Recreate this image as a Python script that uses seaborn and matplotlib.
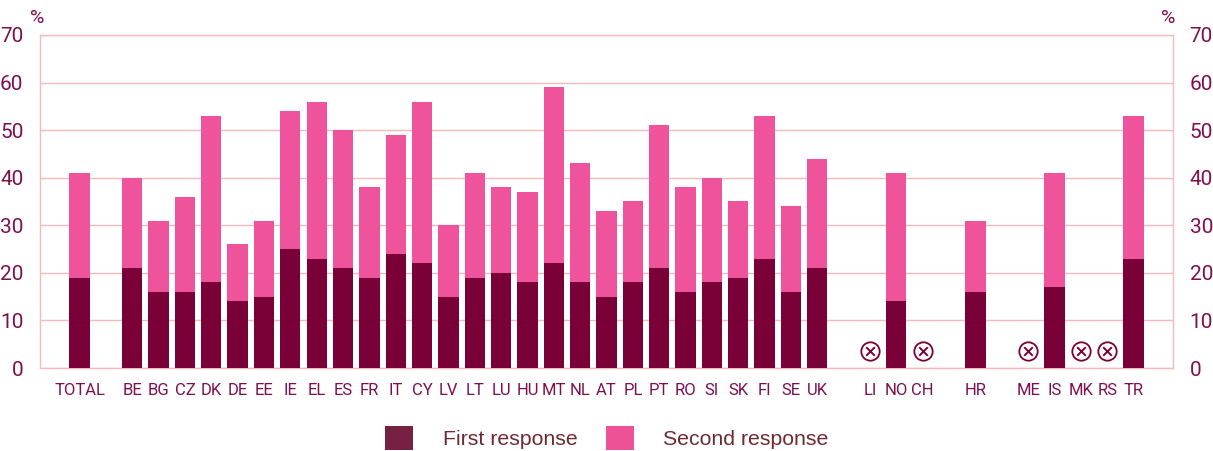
import numpy as np
import pandas as pd
import matplotlib
matplotlib.use('Agg')
import matplotlib.pyplot as plt
import seaborn as sns

# slots on the x axis, '' leaves a gap
countries = ['TOTAL', '', 'BE', 'BG', 'CZ', 'DK', 'DE', 'EE', 'IE', 'EL', 'ES', 'FR', 'IT', 'CY', 'LV', 'LT',
             'LU', 'HU', 'MT', 'NL', 'AT', 'PL', 'PT', 'RO', 'SI', 'SK', 'FI', 'SE', 'UK', '', 'LI', 'NO',
             'CH', '', 'HR', '', 'ME', 'IS', 'MK', 'RS', 'TR']
first_resp = [19, None, 21, 16, 16, 18, 14, 15, 25, 23, 21, 19, 24, 22, 15, 19,
              20, 18, 22, 18, 15, 18, 21, 16, 18, 19, 23, 16, 21, None, None, 14,
              None, None, 16, None, None, 17, None, None, 23]
second_resp = [22, None, 19, 15, 20, 35, 12, 16, 29, 33, 29, 19, 25, 34, 15, 22,
               18, 19, 37, 25, 18, 17, 30, 22, 22, 16, 30, 18, 23, None, None, 27,
               None, None, 15, None, None, 24, None, None, 30]
no_data = ['LI', 'CH', 'ME', 'MK', 'RS']
y_ticks = [0, 10, 20, 30, 40, 50, 60, 70]

dark = '#7a0038'
pink = '#ee539b'
grid_col = '#f4b9b9'
label_col = '#7f0f4f'

sns.set_theme(style='white')
plt.rcParams['font.family'] = 'Roboto'

df = pd.DataFrame({'pos': np.arange(len(countries), dtype=float),
                   'country': countries,
                   'first': pd.to_numeric(first_resp),
                   'second': pd.to_numeric(second_resp)})
bars = df.dropna(subset=['first'])

fig = plt.figure(figsize=(12.13, 4.51), dpi=100)
ax = fig.add_axes([40 / 1213, 1 - 368 / 451, (1173 - 40) / 1213, (368 - 35) / 451])

sns.barplot(data=bars, x='pos', y='first', native_scale=True, color=dark, saturation=1,
            width=0.77, ax=ax, label='First response', zorder=3, linewidth=0)
sns.barplot(data=bars, x='pos', y='second', native_scale=True, color=pink, saturation=1,
            width=0.77, ax=ax, label='Second response', bottom=bars['first'].values, zorder=3, linewidth=0)

# countries without data get a crossed circle
nd = df[df['country'].isin(no_data)].assign(mark=3.6)
sns.scatterplot(data=nd, x='pos', y='mark', ax=ax, s=175, marker='o', facecolor='white',
                edgecolor=dark, linewidth=1.3, zorder=3, legend=False)
sns.scatterplot(data=nd, x='pos', y='mark', ax=ax, s=38, marker='x', color=dark,
                linewidth=1.4, zorder=4, legend=False)

ax.set_xlim(-1.5, 41.5)
ax.set_ylim(0, 70)
ax.set_xlabel('')
ax.set_ylabel('')
ax.set_yticks(y_ticks)
ax.set_xticks(df['pos'][df['country'] != ''])
ax.set_xticklabels(df['country'][df['country'] != ''])
ax.tick_params(axis='x', length=0, pad=10.5, labelsize=12, labelcolor=label_col)
ax.tick_params(axis='y', length=0, pad=12, labelsize=15, labelcolor=label_col)
ax.grid(axis='y', color=grid_col, linewidth=1, zorder=0)
ax.set_axisbelow(True)
if ax.get_legend() is not None:
    ax.get_legend().remove()
for s in ax.spines.values():
    s.set_visible(True)
    s.set_color(grid_col)
    s.set_linewidth(1)

ax2 = ax.twinx()
ax2.set_ylim(0, 70)
ax2.set_yticks(y_ticks)
ax2.tick_params(axis='y', length=0, pad=12, labelsize=15, labelcolor=label_col)
ax2.grid(False)
for s in ax2.spines.values():
    s.set_visible(False)

fig.text(37 / 1213, 1 - 18 / 451, '%', color=label_col, fontsize=14, ha='center', va='center')
fig.text(1168 / 1213, 1 - 18 / 451, '%', color=label_col, fontsize=14, ha='center', va='center')

handles, labels = ax.get_legend_handles_labels()
leg = fig.legend(handles, labels, loc='center', bbox_to_anchor=(607 / 1213, 1 - 438 / 451), ncol=2,
                 frameon=False, prop={'family': 'Liberation Sans', 'size': 15.3}, labelcolor='#6e2a33',
                 handlelength=1.3, handleheight=1.35, handletextpad=1.4, columnspacing=1.35)
for patch, col in zip(leg.get_patches(), ['#762142', '#ee5296']):
    patch.set_facecolor(col)
    patch.set_linewidth(0)

fig.savefig('out.png', dpi=100)
